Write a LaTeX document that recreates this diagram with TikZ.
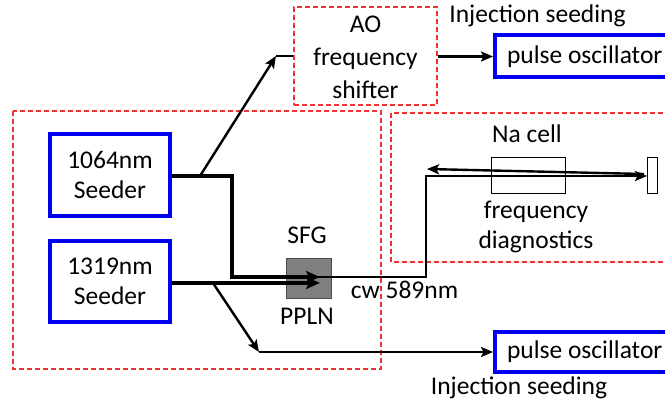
\documentclass[tikz,border=0pt]{standalone}
\usepackage{fontspec}
\setmainfont{Carlito}
\usetikzlibrary{arrows.meta}
\definecolor{dred}{RGB}{240,50,50}
\definecolor{bblue}{RGB}{0,0,240}
\begin{document}
\begin{tikzpicture}[x=1pt,y=-1pt,
  every node/.style={font=\fontsize{25.5}{30}\selectfont, inner sep=0pt},
  seeder/.style={draw=bblue, line width=4pt, minimum width=120pt, minimum height=82pt, align=center},
  osc/.style={draw=bblue, line width=4pt, minimum height=42pt, anchor=west, inner xsep=12pt},
  dbox/.style={draw=dred, line width=1.5pt, dash pattern=on 5pt off 3pt},
  thickbeam/.style={line width=3.8pt},
  thinbeam/.style={line width=2.4pt},
  tip/.style={-{Stealth[length=14pt,width=12pt,inset=3pt]}},
  smalltip/.style={-{Stealth[length=12pt,width=10pt,inset=2.5pt]}},
  lbl/.style={align=center}]
\useasboundingbox (0,0) rectangle (665,404);
\clip (0,0) rectangle (665,404);
% dashed regions
\draw[dbox] (13,111) rectangle (381,369);
\draw[dbox] (391,113) rectangle (690,262);
\node[dbox, minimum width=143pt, minimum height=98pt] (ao) at (365.5,56) {};
\node[lbl, font=\fontsize{25.5}{33}\selectfont] (aotext) at (365.5,57) {AO\\frequency\\shifter};
% seeders
\node[seeder] (s1064) at (110,175) {1064nm\\Seeder};
\node[seeder, minimum height=81pt] (s1319) at (110,281.5) {1319nm\\Seeder};
% oscillators
\node[osc] (po1) at (493,56.5) {pulse oscillator};
\node[osc, minimum height=40pt] (po2) at (493,352) {pulse oscillator};
\node (inj1) at (537.5,16) {Injection seeding};
\node (inj2) at (519,388) {Injection seeding};
% SFG crystal
\node[draw=black!70, fill=black!50, line width=1pt, minimum width=45pt, minimum height=40pt] (sfg) at (308.5,278) {};
\node (sfglbl) at (307,235) {SFG};
\node (ppln) at (307,316) {PPLN};
\node (cw) at (404.5,290) {cw 589nm};
% Na cell and mirror
\node[draw, line width=1pt, minimum width=74pt, minimum height=35pt] (na) at (528,175.5) {};
\node (nalbl) at (527,134) {Na cell};
\node[lbl] (diag) at (536,227) {frequency\\diagnostics};
\node[draw, line width=1pt, minimum width=10pt, minimum height=35pt] (mirror) at (652,175.5) {};
% coordinates
\coordinate (j1) at (232,176);
\coordinate (j2) at (232,277);
\coordinate (in1) at (320,277);
\coordinate (in2) at (320,283);
\coordinate (b1) at (200,176);
\coordinate (a1) at (276,56);
\coordinate (b2) at (213,283);
\coordinate (d1) at (259,352);
\coordinate (o1) at (426,277);
\coordinate (o2) at (426,176);
\coordinate (m1) at (647,176);
\coordinate (m2) at (644,174);
\coordinate (r1) at (427,169);
% beams
\draw[thickbeam, tip] (s1064.east |- j1) -- (j1) -- (j2) -- (in1);
\draw[thickbeam, tip] (s1319.east |- in2) -- (in2);
\draw[thinbeam, smalltip] (b1) -- (a1);
\draw[thinbeam] (a1) -- (ao.west |- a1);
\draw[thinbeam, smalltip] (ao.east |- po1.west) -- (po1.west);
\draw[thinbeam, smalltip] (b2) -- (d1);
\draw[thinbeam, smalltip] (d1) -- (po2.west);
\draw[thinbeam, smalltip] (sfg.center |- in1) -- (o1) -- (o2) -- (m1);
\draw[thinbeam, smalltip] (m2) -- (r1);
\end{tikzpicture}
\end{document}
